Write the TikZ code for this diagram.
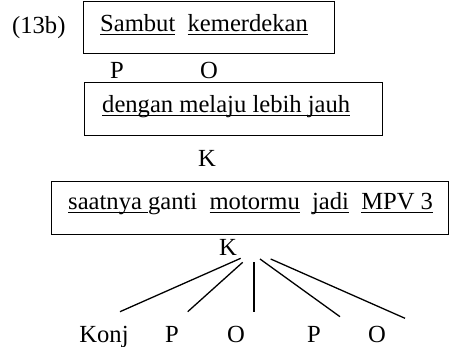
\documentclass[tikz,border=0pt]{standalone}
\usepackage{fontspec}
\setmainfont{Liberation Serif}
\newsavebox\ulbox
\newcommand\myul[1]{\sbox\ulbox{#1}\rlap{\rule[-3pt]{\wd\ulbox}{1.3pt}}\usebox\ulbox}
\begin{document}
\begin{tikzpicture}[x=1pt,y=-1pt,
  every node/.style={inner sep=0pt, font=\fontsize{24.6}{29}\selectfont},
  boxframe/.style={draw, line width=1.3pt, anchor=north west},
  lbl/.style={anchor=base},
  txt/.style={anchor=base west},
  link/.style={line width=1.3pt}]
\useasboundingbox (0,0) rectangle (449,347);
% frames
\node[boxframe, minimum width=251pt, minimum height=52pt] (b1) at (83,1) {};
\node[boxframe, minimum width=298pt, minimum height=53pt] (b2) at (84,82) {};
\node[boxframe, minimum width=397pt, minimum height=53pt] (b3) at (51,181) {};
% texts
\node[txt] (num) at (12,34) {(13b)};
\node[txt] (t1) at (100,32) {\myul{Sambut}\ \ \myul{kemerdekan}};
\node[lbl] (p1) at (117,79) {P};
\node[lbl] (o1) at (209,79) {O};
\node[txt] (t2) at (102,113) {\myul{dengan melaju lebih jauh}};
\node[lbl] (k1) at (207,167) {K};
\node[txt] (t3) at (68,210) {\myul{saatnya }ganti\ \ \myul{motormu}\ \ \myul{jadi}\ \ \myul{MPV 3}};
\node[lbl] (k2) at (228,255) {K};
\node[lbl] (c1) at (104,342) {Konj};
\node[lbl] (c2) at (172,342) {P};
\node[lbl] (c3) at (236,342) {O};
\node[lbl] (c4) at (314,342) {P};
\node[lbl] (c5) at (377,342) {O};
% connector ends
\coordinate (s1) at (240.7,258.3); \coordinate (e1) at (120,311.7);
\coordinate (s2) at (242.7,262.3); \coordinate (e2) at (187.7,311.7);
\coordinate (s3) at (254,262.3);   \coordinate (e3) at (254,311.7);
\coordinate (s4) at (260,259);     \coordinate (e4) at (340,316.7);
\coordinate (s5) at (270.7,259);   \coordinate (e5) at (405,318.3);
\draw[link] (s1) -- (e1);
\draw[link] (s2) -- (e2);
\draw[link] (s3) -- (e3);
\draw[link] (s4) -- (e4);
\draw[link] (s5) -- (e5);
\end{tikzpicture}
\end{document}
